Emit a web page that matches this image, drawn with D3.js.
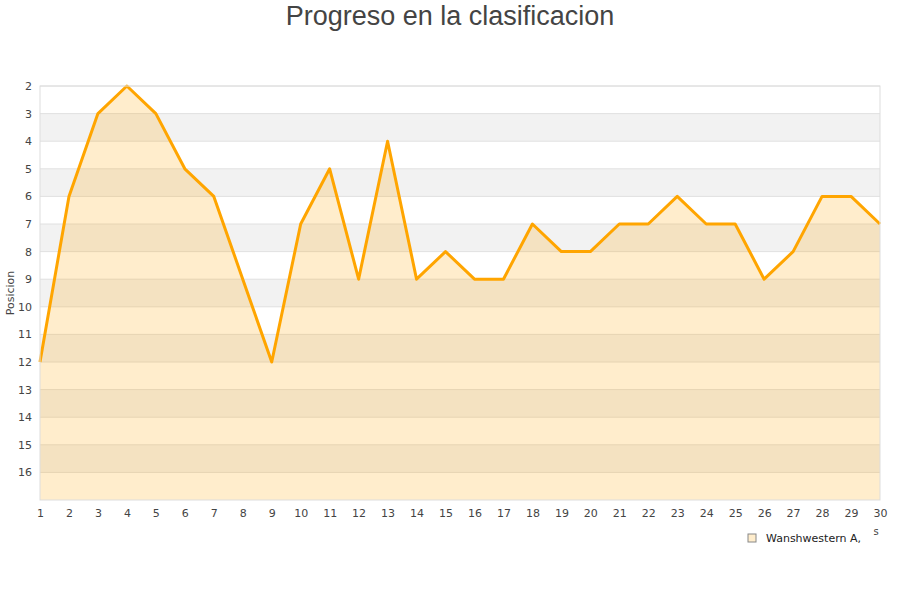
<!DOCTYPE html>
<html>
<head>
<meta charset="utf-8">
<script src="https://cdn.jsdelivr.net/npm/d3@7"></script>
<style>
  body { margin: 0; background: #fff; }
  text { font-family: "DejaVu Sans", sans-serif; }
</style>
</head>
<body>
<svg id="chart" width="900" height="600"></svg>
<script>
// jornadas and positions
const rounds = d3.range(1, 31);
const positions = [12, 6, 3, 2, 3, 5, 6, 9, 12, 7, 5, 9, 4, 9, 8, 9, 9, 7, 8, 8, 7, 7, 6, 7, 7, 9, 8, 6, 6, 7];
const yTicks = d3.range(2, 17);
const seriesName = "Wanshwestern A,";

const width = 900;
const height = 600;
const margin = { top: 86, right: 20, bottom: 100, left: 40 };

const svg = d3.select("#chart");

const x = d3.scaleLinear().domain([1, 30]).range([margin.left, width - margin.right]);
const y = d3.scaleLinear().domain([2, 17]).range([margin.top, height - margin.bottom]);

// ---------------- BANDS ----------------
const bands = d3.range(2, 17);
svg.append("g")
  .selectAll("rect")
  .data(bands)
  .enter()
  .append("rect")
  .attr("x", x(1))
  .attr("y", (d) => y(d))
  .attr("width", x(30) - x(1))
  .attr("height", (d) => y(d + 1) - y(d))
  .attr("fill", (d) => (d % 2 === 1 ? "#f2f2f2" : "#ffffff"));

// grid lines
svg.append("g")
  .selectAll("line")
  .data(yTicks)
  .enter()
  .append("line")
  .attr("x1", x(1))
  .attr("x2", x(30))
  .attr("y1", (d) => y(d))
  .attr("y2", (d) => y(d))
  .attr("stroke", "#e0e0e0")
  .attr("stroke-width", 1);

// ---------------- AREA + LINE ----------------
const data = rounds.map((r, i) => ({ round: r, pos: positions[i] }));

const area = d3.area()
  .x((d) => x(d.round))
  .y0(y(17))
  .y1((d) => y(d.pos));

const line = d3.line()
  .x((d) => x(d.round))
  .y((d) => y(d.pos));

svg.append("path")
  .datum(data)
  .attr("d", area)
  .attr("fill", "rgba(255,165,0,0.2)");

svg.append("path")
  .datum(data)
  .attr("d", line)
  .attr("fill", "none")
  .attr("stroke", "#ffa500")
  .attr("stroke-width", 3)
  .attr("stroke-linejoin", "round");

// plot border
svg.append("rect")
  .attr("x", x(1))
  .attr("y", y(2))
  .attr("width", x(30) - x(1))
  .attr("height", y(17) - y(2))
  .attr("fill", "none")
  .attr("stroke", "#dddddd")
  .attr("stroke-width", 1);

// ---------------- AXES ----------------
const yAxis = d3.axisLeft(y).tickValues(yTicks).tickSize(0).tickPadding(8).tickFormat(d3.format("d"));
const gy = svg.append("g").attr("transform", `translate(${x(1)},0)`).call(yAxis);
gy.select(".domain").remove();
gy.selectAll("text").attr("fill", "#444").style("font-size", "11px").attr("font-family", "DejaVu Sans");

const xAxis = d3.axisBottom(x).tickValues(rounds).tickSize(0).tickPadding(9).tickFormat(d3.format("d"));
const gx = svg.append("g").attr("transform", `translate(0,${y(17)})`).call(xAxis);
gx.select(".domain").remove();
gx.selectAll("text").attr("fill", "#444").style("font-size", "11px").attr("font-family", "DejaVu Sans");

// y axis title
svg.append("text")
  .attr("transform", `translate(14,${(y(2) + y(17)) / 2}) rotate(-90)`)
  .attr("text-anchor", "middle")
  .attr("fill", "#444")
  .style("font-size", "11px")
  .text("Posicion");

// clipped x axis title remnant
svg.append("text")
  .attr("x", 876)
  .attr("y", 535)
  .attr("text-anchor", "middle")
  .attr("fill", "#444")
  .style("font-size", "10px")
  .text("s");

// ---------------- TITLE ----------------
svg.append("text")
  .attr("x", width / 2)
  .attr("y", 25)
  .attr("text-anchor", "middle")
  .attr("fill", "#444")
  .style("font-family", "'Liberation Sans', Arial, sans-serif")
  .style("font-size", "27px")
  .text("Progreso en la clasificacion");

// ---------------- LEGEND ----------------
const legend = svg.append("g").attr("transform", "translate(748,534)");
legend.append("rect")
  .attr("width", 8)
  .attr("height", 8)
  .attr("fill", "#ffedcc")
  .attr("stroke", "#888")
  .attr("stroke-width", 1);
legend.append("text")
  .attr("x", 18)
  .attr("y", 8)
  .attr("fill", "#222")
  .style("font-size", "11px")
  .text(seriesName);
</script>
</body>
</html>
